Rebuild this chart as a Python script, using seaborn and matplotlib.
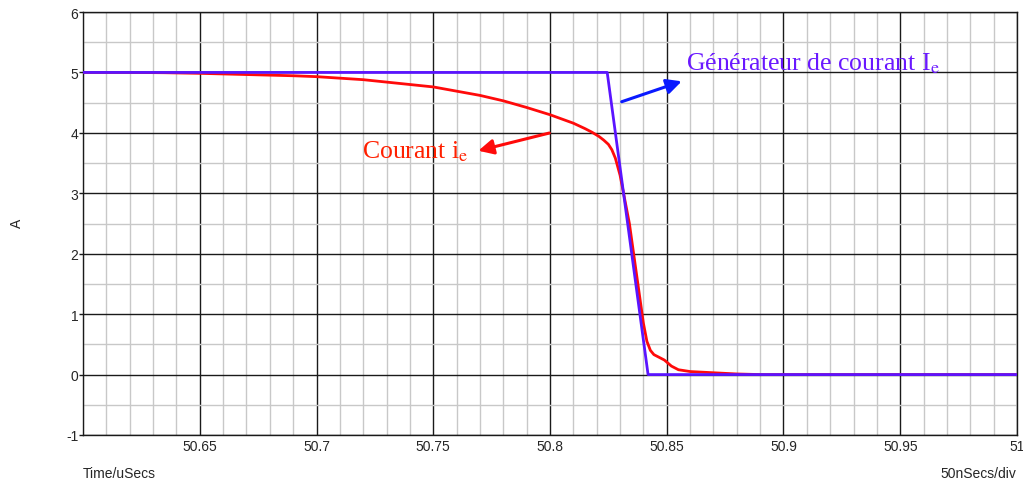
import numpy as np
import pandas as pd
import matplotlib
matplotlib.use("Agg")
import matplotlib.pyplot as plt
from matplotlib.ticker import MultipleLocator, FixedLocator
import seaborn as sns

# ---- data ----
red_t = [50.60, 50.62, 50.635, 50.65, 50.67, 50.69, 50.70, 50.72, 50.74, 50.75,
         50.77, 50.78, 50.79, 50.80, 50.81, 50.815, 50.818, 50.821, 50.823, 50.825,
         50.8265, 50.828, 50.830, 50.834, 50.838, 50.840, 50.8415, 50.843, 50.8445,
         50.846, 50.849, 50.852, 50.855, 50.86, 50.87, 50.88, 50.89, 51.0]
red_i = [5.0, 5.0, 4.995, 4.985, 4.965, 4.945, 4.93, 4.88, 4.80, 4.76,
         4.62, 4.53, 4.42, 4.30, 4.16, 4.07, 4.01, 3.94, 3.88, 3.81,
         3.72, 3.58, 3.30, 2.5, 1.4, 0.85, 0.55, 0.40, 0.33,
         0.30, 0.24, 0.14, 0.08, 0.05, 0.03, 0.01, 0.0, 0.0]
blue_t = [50.60, 50.8245, 50.842, 51.0]
blue_i = [5.0, 5.0, 0.0, 0.0]

x_ticks = [50.65, 50.7, 50.75, 50.8, 50.85, 50.9, 50.95, 51]
x_tick_labels = ["50.65", "50.7", "50.75", "50.8", "50.85", "50.9", "50.95", "51"]
y_ticks = [-1, 0, 1, 2, 3, 4, 5, 6]

sns.set_style("white")
plt.rcParams['font.family'] = ['Liberation Sans', 'DejaVu Sans']
plt.rcParams['mathtext.fontset'] = 'stix'
plt.rcParams['axes.unicode_minus'] = False

fig = plt.figure(figsize=(10.23, 4.85), dpi=100)
ax = fig.add_axes([83/1023, 49/485, (1017-83)/1023, (436-13)/485])

df_red = pd.DataFrame({"t": red_t, "i": red_i})
df_blue = pd.DataFrame({"t": blue_t, "i": blue_i})
sns.lineplot(data=df_red, x="t", y="i", ax=ax, color="#ff0a0a", lw=2.0,
             estimator=None, sort=False, zorder=3)
sns.lineplot(data=df_blue, x="t", y="i", ax=ax, color="#5a14ff", lw=2.0,
             estimator=None, sort=False, zorder=4)

ax.set_xlim(50.6, 51.0)
ax.set_ylim(-1, 6)
ax.xaxis.set_major_locator(FixedLocator(x_ticks))
ax.set_xticklabels(x_tick_labels)
ax.yaxis.set_major_locator(FixedLocator(y_ticks))
ax.xaxis.set_minor_locator(MultipleLocator(0.01))
ax.yaxis.set_minor_locator(MultipleLocator(0.5))

ax.grid(True, which='major', color='#1a1a1a', lw=1.0, zorder=1)
ax.grid(True, which='minor', color='#c8c8c8', lw=1.0, zorder=0)
ax.set_axisbelow(True)
for s in ax.spines.values():
    s.set_color('#1a1a1a')
    s.set_linewidth(1.0)

ax.tick_params(axis='y', which='major', length=3, width=1, pad=0.5,
               labelsize=10, color='#1a1a1a', left=True)
ax.tick_params(axis='x', which='major', length=0, pad=3, labelsize=10)
ax.tick_params(which='minor', length=0)
ax.set_xlabel("")
ax.set_ylabel("")

fig.text(17/1023, 1 - 223/485, "A", rotation=90, ha='center', va='center', fontsize=10)
fig.text(83/1023, 1 - 474/485, "Time/uSecs", ha='left', va='center', fontsize=10)
fig.text(1016/1023, 1 - 474/485, "50nSecs/div", ha='right', va='center', fontsize=10)

serif = ['Liberation Serif', 'DejaVu Serif']
ax.text(50.8582, 5.056, r"Générateur de courant I$_{\mathrm{e}}$", color="#6a18ff",
        fontsize=18.5, family=serif, ha='left', va='baseline', zorder=6)
ax.text(50.7195, 3.594, r"Courant i$_{\mathrm{e}}$", color="#ff2000",
        fontsize=18.5, family=serif, ha='left', va='baseline', zorder=6)

ax.annotate("", xy=(50.8564, 4.853), xytext=(50.8307, 4.515),
            arrowprops=dict(arrowstyle='-|>,head_length=0.9,head_width=0.45',
                            color="#0a1aff", lw=2.2, shrinkA=0, shrinkB=0),
            zorder=6)
ax.annotate("", xy=(50.7693, 3.704), xytext=(50.7997, 3.997),
            arrowprops=dict(arrowstyle='-|>,head_length=0.9,head_width=0.45',
                            color="#ff0a0a", lw=2.2, shrinkA=0, shrinkB=0),
            zorder=6)

fig.savefig("out.png", dpi=100)
